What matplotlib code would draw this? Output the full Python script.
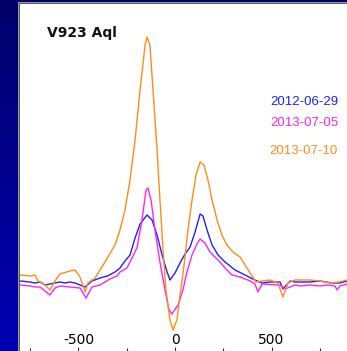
import numpy as np
import matplotlib
matplotlib.use("Agg")
import matplotlib.pyplot as plt
from matplotlib.patches import Rectangle
from matplotlib.colors import LinearSegmentedColormap

plt.rcParams['axes.unicode_minus'] = False

title = "V923 Aql"
labels = ["2012-06-29", "2013-07-05", "2013-07-10"]
colors = ["#2020ff", "#ff22ff", "#ff8c1a"]

# velocity (km/s) and relative flux
v_blue = [-803, -751, -725, -699, -673, -622, -596, -570, -544, -518, -466, -430, -389,
          -350, -311, -285, -259, -233, -207, -181, -145, -119, -93, -67, -41, -26, 0,
          26, 52, 78, 104, 130, 145, 166, 192, 223, 259, 311, 363, 414, 451, 492, 544,
          559, 596, 622, 699, 751, 780, 818, 855, 891]
f_blue = [1.01, 1.00, 0.99, 1.00, 0.97, 0.99, 1.00, 0.99, 1.00, 0.99, 0.95, 1.01, 1.04,
          1.06, 1.10, 1.14, 1.21, 1.27, 1.44, 1.58, 1.67, 1.62, 1.47, 1.27, 1.10, 1.02,
          1.09, 1.19, 1.28, 1.35, 1.50, 1.68, 1.66, 1.52, 1.37, 1.27, 1.20, 1.12, 1.07,
          1.02, 0.99, 1.00, 1.00, 0.93, 1.01, 1.00, 1.00, 1.01, 1.00, 0.99, 0.99, 1.01]

v_mag = [-803, -751, -725, -699, -648, -622, -596, -544, -492, -461, -430, -389, -337,
         -300, -285, -249, -223, -197, -171, -150, -140, -124, -104, -78, -52, -31, -16,
         16, 41, 62, 88, 114, 130, 155, 181, 233, 259, 295, 337, 389, 414, 430, 451, 544,
         570, 622, 650, 699, 750, 790, 829, 839, 855, 891]
f_mag = [0.97, 0.96, 0.95, 0.95, 0.87, 0.94, 0.96, 0.95, 0.94, 0.84, 0.95, 0.97, 1.03,
         1.06, 1.10, 1.14, 1.24, 1.34, 1.62, 1.92, 1.94, 1.82, 1.52, 1.20, 0.92, 0.72,
         0.68, 0.77, 0.92, 1.10, 1.27, 1.38, 1.43, 1.39, 1.30, 1.20, 1.14, 1.07, 1.05,
         1.01, 0.98, 0.90, 0.98, 0.97, 0.93, 0.97, 0.96, 0.97, 0.96, 0.97, 0.96, 0.92,
         0.96, 0.98]

v_org = [-803, -751, -725, -710, -673, -648, -622, -596, -544, -518, -492, -466, -451,
         -414, -363, -311, -285, -259, -233, -207, -181, -155, -145, -130, -114, -93,
         -78, -62, -47, -26, -10, 10, 26, 47, 67, 88, 109, 130, 150, 171, 192, 218, 243,
         269, 300, 337, 363, 389, 420, 451, 492, 533, 559, 585, 622, 660, 699, 751, 803,
         850, 891]
f_org = [1.07, 1.06, 1.07, 1.01, 0.97, 0.92, 1.01, 1.08, 1.11, 1.12, 1.05, 0.90, 0.99,
         1.04, 1.20, 1.37, 1.52, 1.72, 2.02, 2.42, 2.92, 3.37, 3.45, 3.37, 2.92, 2.32,
         1.82, 1.32, 0.92, 0.62, 0.52, 0.62, 0.87, 1.17, 1.52, 1.82, 2.07, 2.20, 2.17,
         2.02, 1.82, 1.62, 1.47, 1.37, 1.30, 1.25, 1.17, 1.09, 1.00, 1.01, 1.02, 0.99,
         0.85, 0.99, 1.02, 1.02, 1.02, 1.01, 0.99, 1.00, 1.02]

major_ticks = [-500, 0, 500]
minor_ticks = [-750, -250, 250, 750]

W, H = 347, 351
fig = plt.figure(figsize=(W / 100, H / 100), dpi=100)

# slide background gradient
bg = fig.add_axes([0, 0, 1, 1], zorder=0)
grad = np.linspace(0, 1, 256).reshape(-1, 1)
cmap = LinearSegmentedColormap.from_list("bg", ["#00006a", "#0000b4"])
bg.imshow(grad, aspect='auto', cmap=cmap, extent=[0, W, H, 0])
bg.set_xlim(0, W)
bg.set_ylim(H, 0)
bg.axis('off')
bg.add_patch(Rectangle((18, 2), W, H, facecolor='#9a9a9a', edgecolor='none'))
bg.add_patch(Rectangle((19, 3), W, H, facecolor='#5a5a5a', edgecolor='none'))
bg.add_patch(Rectangle((20, 4), W, H, facecolor='white', edgecolor='none'))

x0, x1 = -803, 891
ax = fig.add_axes([20 / W, 0, (W - 20) / W, (H - 4) / H], zorder=1)
ax.patch.set_alpha(0)
for s in ax.spines.values():
    s.set_visible(False)
ax.plot(v_blue, f_blue, color=colors[0], lw=1.0)
ax.plot(v_mag, f_mag, color=colors[1], lw=1.0)
ax.plot(v_org, f_org, color=colors[2], lw=1.0)
ax.set_xlim(x0, x1)
ax.set_ylim(0.31, 3.78)
ax.set_yticks([])
ax.set_xticks(major_ticks)
ax.set_xticks(minor_ticks, minor=True)
ax.tick_params(axis='x', which='major', direction='in', length=3, width=0.8,
               pad=-13, labelsize=10, color='#333333')
ax.tick_params(axis='x', which='minor', direction='in', length=2.5, width=0.8,
               color='#333333')

fig.text(47 / W, 1 - 33 / H, title, fontsize=10, fontweight='bold',
         va='center', ha='left', color='#111111')
ys = [102, 123, 151]
for lab, c, y in zip(labels, colors, ys):
    fig.text(338 / W, 1 - y / H, lab, fontsize=9.5, family='Liberation Sans',
             color=c, ha='right', va='center')

fig.savefig("out.png", dpi=100)
